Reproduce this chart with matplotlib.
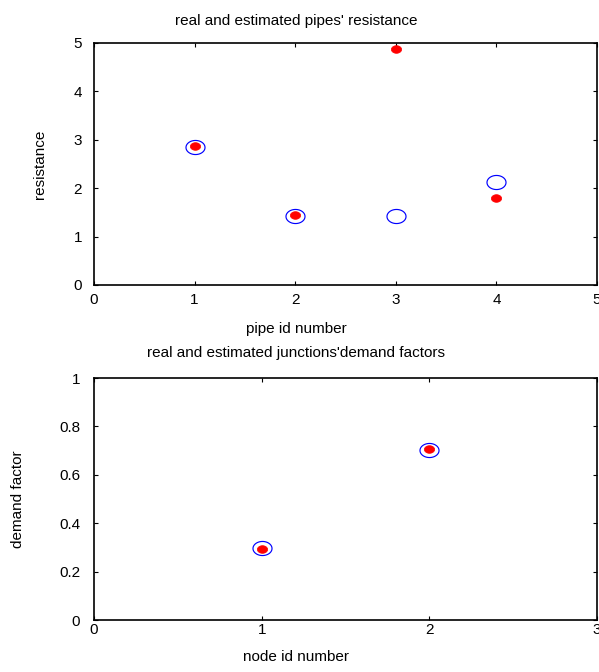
import numpy as np
import matplotlib
matplotlib.use("Agg")
import matplotlib.pyplot as plt
from matplotlib.path import Path

plt.rcParams['font.family'] = ['Liberation Sans', 'DejaVu Sans']

pipe_ids = [1, 2, 3, 4]
pipe_real = [2.85, 1.43, 1.43, 2.13]
pipe_est = [2.87, 1.44, 4.87, 1.79]

node_ids = [1, 2]
node_real = [0.298, 0.703]
node_est = [0.293, 0.706]

top_title = "real and estimated pipes' resistance"
top_xlabel = "pipe id number"
top_ylabel = "resistance"
bot_title = "real and estimated junctions'demand factors"
bot_xlabel = "node id number"
bot_ylabel = "demand factor"

t = np.linspace(0, 2 * np.pi, 60)
ellipse = Path(np.column_stack([np.cos(t), 0.74 * np.sin(t)]), closed=True)

W, H = 599, 672
fig = plt.figure(figsize=(W / 100, H / 100), dpi=100)
ax1 = fig.add_axes([94 / W, 1 - 285 / H, 503 / W, 242 / H])
ax2 = fig.add_axes([94 / W, 1 - 620 / H, 503 / W, 242 / H])

center_x = (296 - 94) / 503
fs = 11
cfg = [
    dict(ax=ax1, x=pipe_ids, yr=pipe_real, ye=pipe_est, xl=top_xlabel, yl=top_ylabel, ttl=top_title,
         xlim=(0, 5), ylim=(0, 5), yt=[0, 1, 2, 3, 4, 5], xpad=6, ypad=8.5,
         ylx=(47 - 94) / 503, ttl_y=1 + 18 / 242, xl_y=-(322 - 285) / 242),
    dict(ax=ax2, x=node_ids, yr=node_real, ye=node_est, xl=bot_xlabel, yl=bot_ylabel, ttl=bot_title,
         xlim=(0, 3), ylim=(0, 1), yt=[0, 0.2, 0.4, 0.6, 0.8, 1], xpad=2.5, ypad=10,
         ylx=(25 - 94) / 503, ttl_y=1 + 21 / 242, xl_y=-(650 - 620) / 242),
]
for c in cfg:
    ax = c['ax']
    ax.plot(c['x'], c['yr'], linestyle='none', marker=ellipse, markersize=13.7,
            markerfacecolor='none', markeredgecolor='blue', markeredgewidth=0.85)
    ax.plot(c['x'], c['ye'], linestyle='none', marker=ellipse, markersize=7.4,
            markerfacecolor='red', markeredgecolor='red', markeredgewidth=0.5)
    ax.set_xlim(*c['xlim'])
    ax.set_ylim(*c['ylim'])
    ax.set_yticks(c['yt'])
    ax.set_yticklabels([f'{v:g}' for v in c['yt']])
    ax.set_xticks(range(c['xlim'][0], c['xlim'][1] + 1))
    ax.tick_params(direction='in', top=True, right=True, labelsize=fs, length=3, width=0.8)
    ax.tick_params(axis='x', pad=c['xpad'])
    ax.tick_params(axis='y', pad=c['ypad'])
    for s in ax.spines.values():
        s.set_linewidth(1.2)
    ax.set_xlabel(c['xl'], fontsize=fs)
    ax.xaxis.set_label_coords(center_x, c['xl_y'])
    ax.xaxis.label.set_va('top')
    ax.set_ylabel(c['yl'], fontsize=fs)
    ax.yaxis.set_label_coords(c['ylx'], 0.5)
    ax.set_title(c['ttl'], fontsize=fs, x=center_x, y=c['ttl_y'], pad=0)

fig.savefig("out.png", dpi=100)
